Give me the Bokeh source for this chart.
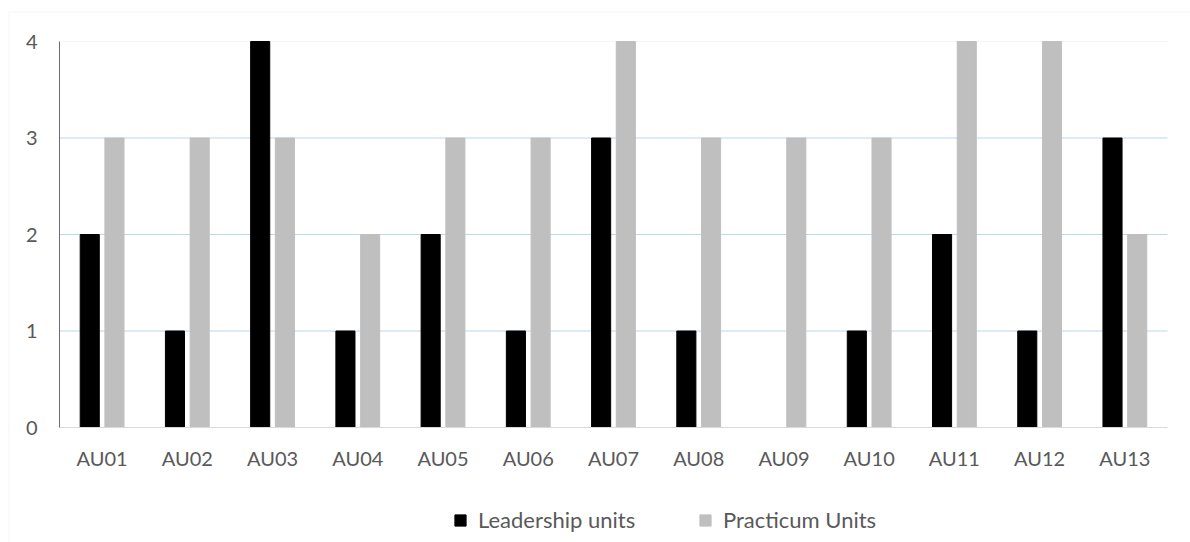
from bokeh.plotting import figure
from bokeh.models import (ColumnDataSource, Range1d, FixedTicker, Legend, LegendItem,
                          BoxAnnotation, LinearAxis)
from bokeh.transform import dodge
from bokeh.embed import file_html
from bokeh.resources import INLINE

categories = ["AU01", "AU02", "AU03", "AU04", "AU05", "AU06", "AU07",
              "AU08", "AU09", "AU10", "AU11", "AU12", "AU13"]
leadership_units = [2, 1, 4, 1, 2, 1, 3, 1, 0, 1, 2, 1, 3]
practicum_units = [3, 3, 3, 2, 3, 3, 4, 3, 3, 3, 4, 4, 2]
y_ticks = [0, 1, 2, 3, 4]

idx = list(range(len(categories)))
src = ColumnDataSource(dict(idx=idx, cat=categories, lead=leadership_units, prac=practicum_units))

FONT = "Lato"
TXT = "#595959"

n = len(categories)
p = figure(width=1190, height=542,
           x_range=Range1d(-1.192, 12.770), y_range=Range1d(-1.1917, 4.4249),
           output_backend="svg", toolbar_location=None,
           x_axis_location=None, y_axis_location=None,
           min_border=0, min_border_left=0, min_border_right=0,
           min_border_top=0, min_border_bottom=0)
p.outline_line_color = None
p.background_fill_color = "white"
p.border_fill_color = "white"
p.xgrid.visible = False
p.ygrid.visible = False

# outer chart border
p.add_layout(BoxAnnotation(left=8.5, right=1400, top=11.5, bottom=900,
                           left_units="canvas", right_units="canvas",
                           top_units="canvas", bottom_units="canvas",
                           fill_alpha=0, line_color="#d9d9d9", line_width=1,
                           level="underlay"))

# horizontal grid lines, limited to the plot area
grid_y = [t for t in y_ticks if 0 < t < 4]
p.segment(x0=[-0.5] * len(grid_y), x1=[n - 0.5] * len(grid_y), y0=grid_y, y1=grid_y,
          line_color="#bdd7ee", line_width=1)
p.segment(x0=[-0.5], x1=[n - 0.5], y0=[y_ticks[-1]], y1=[y_ticks[-1]],
          line_color="#f2f5fa", line_width=1)

r1 = p.vbar(x=dodge("idx", -0.145), top="lead", width=0.224, source=src, color="#000000")
r2 = p.vbar(x=dodge("idx", 0.145), top="prac", width=0.224, source=src, color="#bfbfbf")

xaxis = LinearAxis(fixed_location=0, bounds=(-0.5, n - 0.5),
                   ticker=FixedTicker(ticks=idx),
                   major_label_overrides={i: c for i, c in zip(idx, categories)},
                   axis_line_color="#d9d9d9", major_tick_line_color=None,
                   minor_tick_line_color=None, major_tick_out=0, major_tick_in=0,
                   minor_tick_out=0, minor_tick_in=0,
                   major_label_standoff=18, major_label_text_font=FONT,
                   major_label_text_font_size="20px", major_label_text_color=TXT)
yaxis = LinearAxis(fixed_location=-0.5, bounds=(0, 4),
                   ticker=FixedTicker(ticks=y_ticks),
                   axis_line_color="#6b6b6b", major_tick_line_color=None,
                   minor_tick_line_color=None, major_tick_out=0, major_tick_in=0,
                   minor_tick_out=0, minor_tick_in=0,
                   major_label_standoff=22, major_label_text_font=FONT,
                   major_label_text_font_size="20px", major_label_text_color=TXT)
p.add_layout(xaxis, "below")
p.add_layout(yaxis, "left")

def mk_legend(item, x):
    return Legend(items=[item], location=(x, 9), orientation="horizontal",
                  padding=0, margin=0, border_line_color=None, background_fill_alpha=0,
                  glyph_width=14, glyph_height=14, label_standoff=11,
                  label_text_font=FONT, label_text_font_size="22px",
                  label_text_color=TXT, label_height=14)

p.add_layout(mk_legend(LegendItem(label="Leadership units", renderers=[r1]), 453), "center")
p.add_layout(mk_legend(LegendItem(label="Practicum Units", renderers=[r2]), 698), "center")

open("out.html", "w").write(file_html(p, INLINE))
